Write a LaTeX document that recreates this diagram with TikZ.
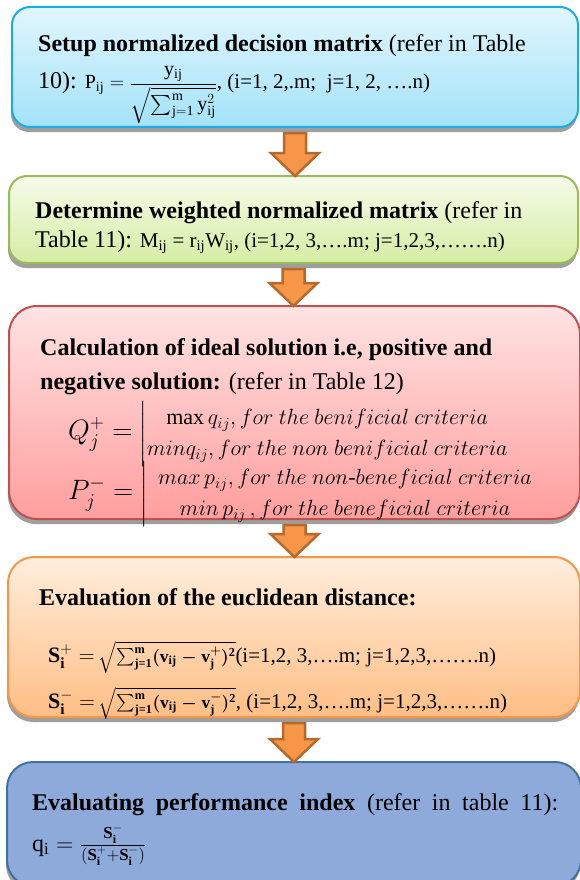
\documentclass[tikz,border=0pt]{standalone}
\usepackage{fix-cm}
\usepackage{amsmath,amssymb}
\usepackage{fontspec}
\setmainfont{Liberation Serif}
\usepackage{xcolor}
\definecolor{skyTop}{HTML}{E1F6FD}
\definecolor{skyBot}{HTML}{A3E2F8}
\definecolor{skyEdge}{HTML}{1AADE4}
\definecolor{limeTop}{HTML}{F6FBEA}
\definecolor{limeBot}{HTML}{D5EDA3}
\definecolor{limeEdge}{HTML}{9BBB59}
\definecolor{roseTop}{HTML}{FFE3E3}
\definecolor{roseBot}{HTML}{FF9E9E}
\definecolor{roseEdge}{HTML}{C0504D}
\definecolor{peachTop}{HTML}{FFEEDD}
\definecolor{peachBot}{HTML}{FFBE85}
\definecolor{peachEdge}{HTML}{F79646}
\definecolor{steelFill}{HTML}{8EAADB}
\definecolor{steelEdge}{HTML}{41719C}
\definecolor{arrowFill}{HTML}{F79646}
\definecolor{arrowEdge}{HTML}{B5692E}
\usepackage{tikz}
\usetikzlibrary{calc,shadows}

\newcommand{\flowarrow}[2]{%
  \draw[flowarr] let \p1=(#1.south), \p2=(#2.north) in
    (\x1-11pt,\y1-6pt) -- (\x1+11pt,\y1-6pt) -- (\x1+11pt,\y2+23pt)
    -- (\x1+24pt,\y2+23pt) -- (\x1,\y2) -- (\x1-24pt,\y2+23pt)
    -- (\x1-11pt,\y2+23pt) -- cycle;}
\newcommand{\smallsz}{\fontsize{21}{25}\selectfont}
\newcommand{\mathsz}{\fontsize{20}{24}\selectfont}
\newcommand{\distsz}{\fontsize{17.5}{22}\selectfont}
\newcommand{\labelsz}{\fontsize{28}{31}\selectfont}
\newcommand{\bt}[1]{\text{\bfseries #1}}
\newcommand{\bS}[1]{{\fontsize{22}{24}\selectfont$\bt{S}_{\bt{i}}^{#1} =$}}

\begin{document}
\begin{tikzpicture}[x=1pt,y=-1pt,
  stepbox/.style={draw, line width=2pt, rounded corners=18pt, inner sep=0pt, outer sep=0pt,
    anchor=north west, drop shadow={shadow xshift=-1pt,shadow yshift=-5pt,fill=black!38,opacity=1}},
  txt/.style={anchor=base west, inner sep=0pt, font=\fontsize{24}{29}\selectfont},
  eqn/.style={anchor=west, inner sep=0pt, font=\fontsize{22}{31}\selectfont},
  flowarr/.style={draw=arrowEdge, fill=arrowFill, line width=2.5pt, line join=miter}]
  \useasboundingbox (0,0) rectangle (579,880);

  % Boxes
  \node[stepbox, draw=skyEdge, top color=skyTop, bottom color=skyBot,
    minimum width=566pt, minimum height=120pt] (setup) at (12,7) {};
  \node[stepbox, draw=limeEdge, top color=limeTop, bottom color=limeBot,
    minimum width=569pt, minimum height=87pt] (weight) at (9,176) {};
  \node[stepbox, draw=roseEdge, top color=roseTop, bottom color=roseBot, rounded corners=28pt,
    minimum width=571pt, minimum height=213pt] (ideal) at (9,306) {};
  \node[stepbox, draw=peachEdge, top color=peachTop, bottom color=peachBot, rounded corners=26pt,
    minimum width=572pt, minimum height=160pt] (dist) at (8,557) {};
  \node[stepbox, draw=steelEdge, fill=steelFill, rounded corners=26pt,
    minimum width=574pt, minimum height=124pt] (perf) at (7,762) {};

  % Arrows
  \flowarrow{setup}{weight}
  \flowarrow{weight}{ideal}
  \flowarrow{ideal}{dist}
  \flowarrow{dist}{perf}

  % Step 1
  \node[txt] (setupA) at (38,52) {\textbf{Setup normalized decision matrix} (refer in Table};
  \node[txt] (setupB) at (38,89) {10): {\mathsz$\mathrm{P_{ij}} = \dfrac{\mathrm{y_{ij}}}{\sqrt{\sum_{\mathrm{j=1}}^{\mathrm{m}}\mathrm{y}_{\mathrm{ij}}^{2}}}$}{\smallsz, (i=1, 2,.m;\ \ j=1, 2, ….n)}};

  % Step 2
  \node[txt] (weightA) at (35,218) {\textbf{Determine weighted normalized matrix} (refer in};
  \node[txt] (weightB) at (35,247) {Table 11): {\smallsz M\textsubscript{ij} = r\textsubscript{ij}W\textsubscript{ij}, (i=1,2, 3,….m; j=1,2,3,…….n)}};

  % Step 3
  \node[txt] (idealA) at (40,355) {\textbf{Calculation of ideal solution i.e, positive and}};
  \node[txt] (idealB) at (40,389) {\textbf{negative solution:} (refer in Table 12)};
  \node[eqn] (idealQ) at (68,434) {{\labelsz$Q_j^{+} =$}\hspace{7pt}$\left|\begin{array}{@{}c@{}}
      \max q_{ij}, for\ the\ benificial\ criteria\\
      min q_{ij}, for\ the\ non\ benificial\ criteria\end{array}\right.$};
  \node[eqn] (idealP) at (68,494) {{\labelsz$P_j^{-} =$}\hspace{7pt}$\left|\ \begin{array}{c}
      max\,p_{ij}, for\ the\ non\text{-}beneficial\ criteria\\
      min\,p_{ij}\,, for\ the\ beneficial\ criteria\end{array}\right.$};

  % Step 4
  \node[txt] (distA) at (39,605) {\textbf{Evaluation of the euclidean distance:}};
  \node[txt] (distP) at (48,662) {\bS{+}\,{\distsz\boldmath$\sqrt{\sum_{\bt{j=1}}^{\bt{m}}(\bt{v}_{\bt{ij}} - \bt{v}_{\bt{j}}^{+})^{\bt{2}}}$}{\smallsz(i=1,2, 3,….m; j=1,2,3,…….n)}};
  \node[txt] (distM) at (48,708) {\bS{-}\,{\distsz\boldmath$\sqrt{\sum_{\bt{j=1}}^{\bt{m}}(\bt{v}_{\bt{ij}} - \bt{v}_{\bt{j}}^{-})^{\bt{2}}}$}{\smallsz, (i=1,2, 3,….m; j=1,2,3,…….n)}};

  % Step 5
  \node[txt] (perfA) at (32,810) {\makebox[526pt][s]{\textbf{Evaluating performance index} (refer in table 11):}};
  \node[txt] (perfB) at (32,851) {$\mathrm{q_i} = \frac{\bt{S}_{\bt{i}}^{-}}{(\bt{S}_{\bt{i}}^{+}+\bt{S}_{\bt{i}}^{-})}$};
\end{tikzpicture}
\end{document}
